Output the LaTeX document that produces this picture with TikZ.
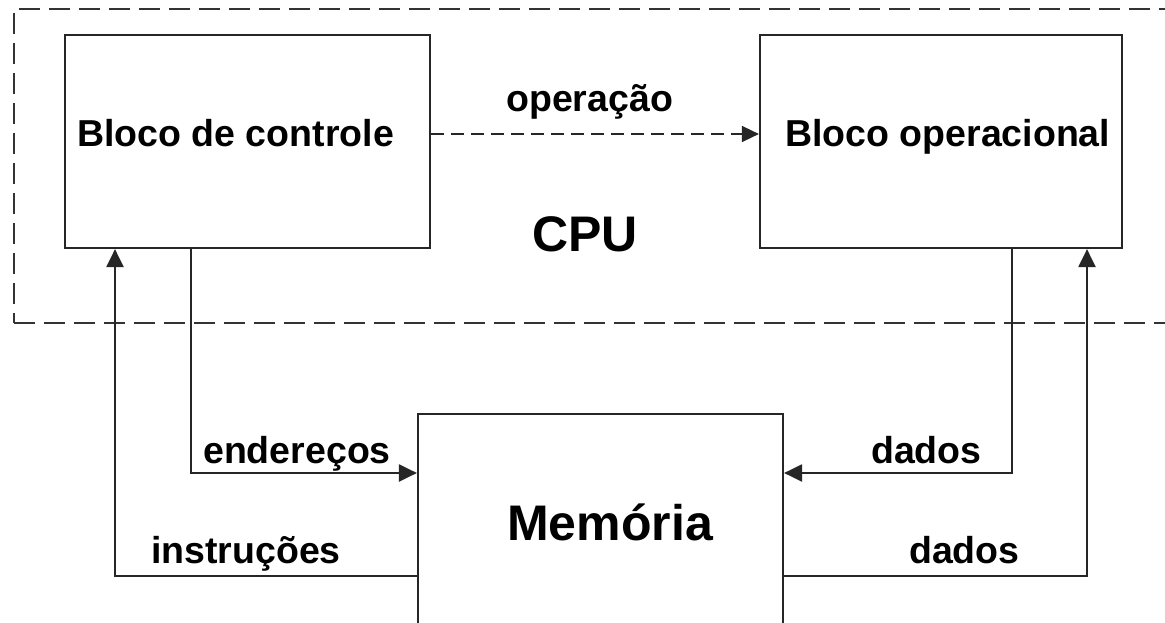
\documentclass[tikz,border=0pt]{standalone}
\usepackage{fontspec}
\setmainfont{Liberation Sans}
\usetikzlibrary{arrows.meta}
\tikzset{
  blk/.style={draw=black!85, line width=2.2pt, rectangle, inner sep=0pt},
  cpubox/.style={draw=black!80, line width=2.2pt, rectangle, inner sep=0pt, dash pattern=on 21pt off 9pt},
  conn/.style={draw=black!85, line width=2.2pt, -{Triangle[length=18pt,width=17pt]}},
  opdash/.style={draw=black!85, line width=1.6pt, dash pattern=on 13pt off 7pt, -{Triangle[length=17pt,width=16pt]}},
  lbl/.style={font=\fontsize{37.5}{42}\selectfont\bfseries, inner sep=0pt, anchor=base west},
  big/.style={font=\fontsize{50}{56}\selectfont\bfseries, inner sep=0pt, anchor=base west}
}
\begin{document}
\begin{tikzpicture}[x=1pt,y=-1pt]
\useasboundingbox (0,0) rectangle (1165,623);
\clip (0,0) rectangle (1165,623);
\fill[white] (0,0) rectangle (1165,623);
% CPU dashed region (right edge beyond the picture)
\node[cpubox, minimum width=1206pt, minimum height=314pt] (cpu) at (617,166) {};
% blocks
\node[blk, minimum width=365pt, minimum height=213pt] (ctrl) at (247.5,141.5) {};
\node[blk, minimum width=362pt, minimum height=213pt] (oper) at (941,141.5) {};
\node[blk, minimum width=365pt, minimum height=300pt] (mem) at (600.5,564) {};
% texts
\node[lbl] (tctrl) at (77,147) {Bloco de controle};
\node[lbl] (toper) at (785,147) {Bloco operacional};
\node[lbl] (top) at (506,112) {operação};
\node[big] (tcpu) at (532,251) {CPU};
\node[big] (tmem) at (507,540) {Memória};
\node[lbl] (tend) at (203,463) {endereços};
\node[lbl] (tdad1) at (871,463) {dados};
\node[lbl] (tins) at (151,563) {instruções};
\node[lbl] (tdad2) at (909,563) {dados};
% connectors
\draw[opdash] (ctrl.east |- 0,134) -- (oper.west |- 0,134);
\draw[conn] (mem.west |- 0,576) -| (ctrl.south -| 115,0);
\draw[conn] (ctrl.south -| 191,0) |- (mem.west |- 0,473);
\draw[conn] (oper.south -| 1012,0) |- (mem.east |- 0,473);
\draw[conn] (mem.east |- 0,576) -| (oper.south -| 1087,0);
\end{tikzpicture}
\end{document}
